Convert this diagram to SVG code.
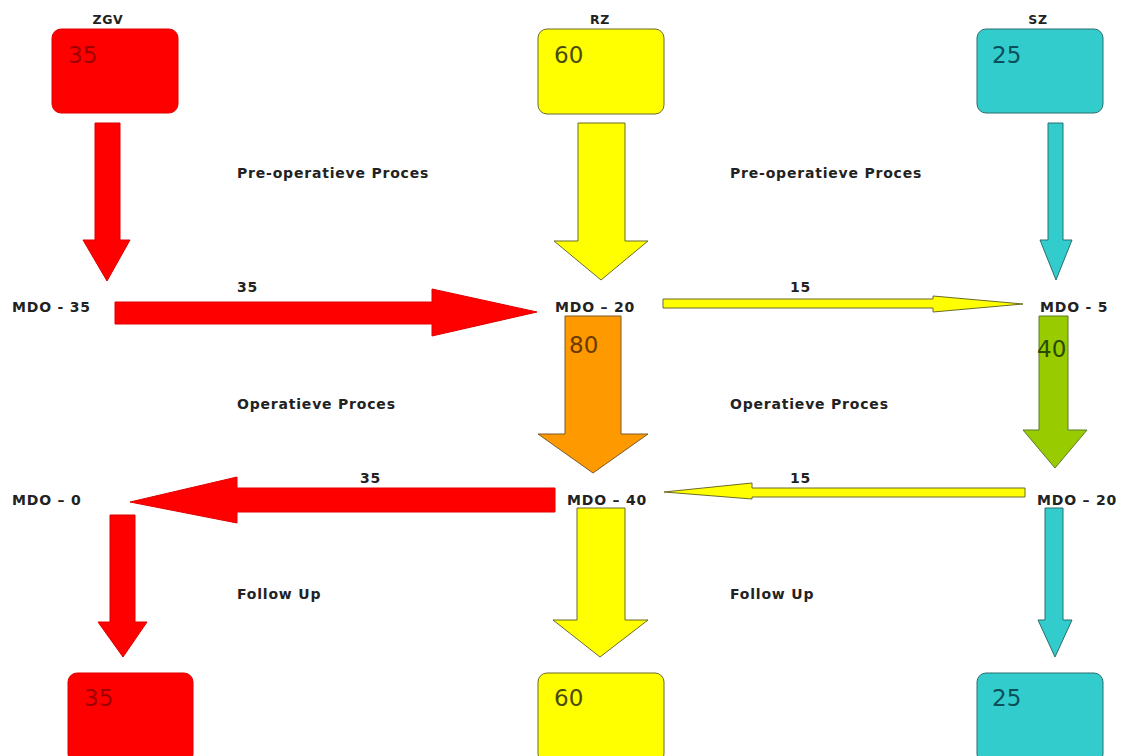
<svg xmlns="http://www.w3.org/2000/svg" width="1125" height="756" viewBox="0 0 1125 756">
<style>
.lbl{font-family:"DejaVu Sans",Verdana,sans-serif;font-weight:bold;font-size:14px;letter-spacing:0.8px;fill:#222}
.hdr{font-family:"DejaVu Sans",Verdana,sans-serif;font-weight:bold;font-size:12.5px;letter-spacing:0.6px;fill:#222}
.num{font-family:"DejaVu Sans",Verdana,sans-serif;font-size:23px}
.red{fill:#ff0000;stroke:#e00000;stroke-width:1}
.yel{fill:#ffff00;stroke:#6b6b2a;stroke-width:1}
.tea{fill:#33cccc;stroke:#2a6e6e;stroke-width:1}
.ora{fill:#ff9900;stroke:#7a5a2a;stroke-width:1}
.grn{fill:#99cc00;stroke:#5a7a2a;stroke-width:1}
</style>
<rect width="1125" height="756" fill="#ffffff"/>

<g id="zgv-top">
<text class="hdr" x="108" y="24" text-anchor="middle">ZGV</text>
<rect class="red" x="52" y="29" width="126" height="84" rx="9"/>
<text class="num" x="68" y="63" fill="#a00000">35</text>
</g>
<g id="rz-top">
<text class="hdr" x="600" y="24" text-anchor="middle">RZ</text>
<rect class="yel" x="538" y="29" width="126" height="85" rx="9"/>
<text class="num" x="554" y="63" fill="#4a4a10">60</text>
</g>
<g id="sz-top">
<text class="hdr" x="1038" y="24" text-anchor="middle">SZ</text>
<rect class="tea" x="977" y="29" width="126" height="84" rx="9"/>
<text class="num" x="992" y="63" fill="#0a4f5a">25</text>
</g>

<g id="mdo-35"><text class="lbl" x="12" y="312">MDO - 35</text></g>
<g id="mdo-20a"><text class="lbl" x="555" y="312">MDO – 20</text></g>
<g id="mdo-5"><text class="lbl" x="1040" y="312">MDO - 5</text></g>
<g id="mdo-0"><text class="lbl" x="12" y="505">MDO – 0</text></g>
<g id="mdo-40"><text class="lbl" x="567" y="505">MDO – 40</text></g>
<g id="mdo-20b"><text class="lbl" x="1037" y="505">MDO – 20</text></g>

<g id="zgv-bottom">
<rect class="red" x="68" y="673" width="125" height="90" rx="9"/>
<text class="num" x="84" y="706" fill="#a00000">35</text>
</g>
<g id="rz-bottom">
<rect class="yel" x="538" y="673" width="126" height="90" rx="9"/>
<text class="num" x="554" y="706" fill="#4a4a10">60</text>
</g>
<g id="sz-bottom">
<rect class="tea" x="977" y="673" width="126" height="90" rx="9"/>
<text class="num" x="992" y="706" fill="#0a4f5a">25</text>
</g>

<g id="section-labels">
<text class="lbl" x="237" y="178">Pre-operatieve Proces</text>
<text class="lbl" x="730" y="178">Pre-operatieve Proces</text>
<text class="lbl" x="237" y="409">Operatieve Proces</text>
<text class="lbl" x="730" y="409">Operatieve Proces</text>
<text class="lbl" x="237" y="599">Follow Up</text>
<text class="lbl" x="730" y="599">Follow Up</text>
</g>

<g id="connectors">
<path class="red" d="M95,123 H120 V240 H130 L107,281 L83,240 H95 Z"/>
<path class="red" d="M115,302 H432 V289 L537,312 L432,336 V324 H115 Z"/>
<text class="lbl" x="237" y="292">35</text>
<path class="yel" d="M578,123 H625 V241 H648 L601,280 L554,241 H578 Z"/>
<path class="yel" d="M663,299 H933 V296 L1023,304 L933,312 V308 H663 Z"/>
<text class="lbl" x="790" y="292">15</text>
<path class="tea" d="M1048,123 H1063 V240 H1072 L1056,280 L1040,240 H1048 Z"/>
<path class="ora" d="M565,316 H621 V434 H648 L593,473 L538,434 H565 Z"/>
<text class="num" x="569" y="353" fill="#6a3a00">80</text>
<path class="grn" d="M1039,316 H1068 V430 H1087 L1055,468 L1023,430 H1039 Z"/>
<text class="num" x="1037" y="357" fill="#2a4a00">40</text>
<path class="yel" d="M1025,488 V497 H752 V499 L664,492 L752,483 V488 Z"/>
<text class="lbl" x="790" y="483">15</text>
<path class="red" d="M555,488 V512 H237 V523 L130,502 L237,477 V488 Z"/>
<text class="lbl" x="360" y="483">35</text>
<path class="red" d="M110,515 H135 V622 H147 L123,657 L98,622 H110 Z"/>
<path class="yel" d="M577,508 H625 V620 H648 L600,657 L553,620 H577 Z"/>
<path class="tea" d="M1045,508 H1063 V620 H1072 L1055,657 L1038,620 H1045 Z"/>
</g>
</svg>
